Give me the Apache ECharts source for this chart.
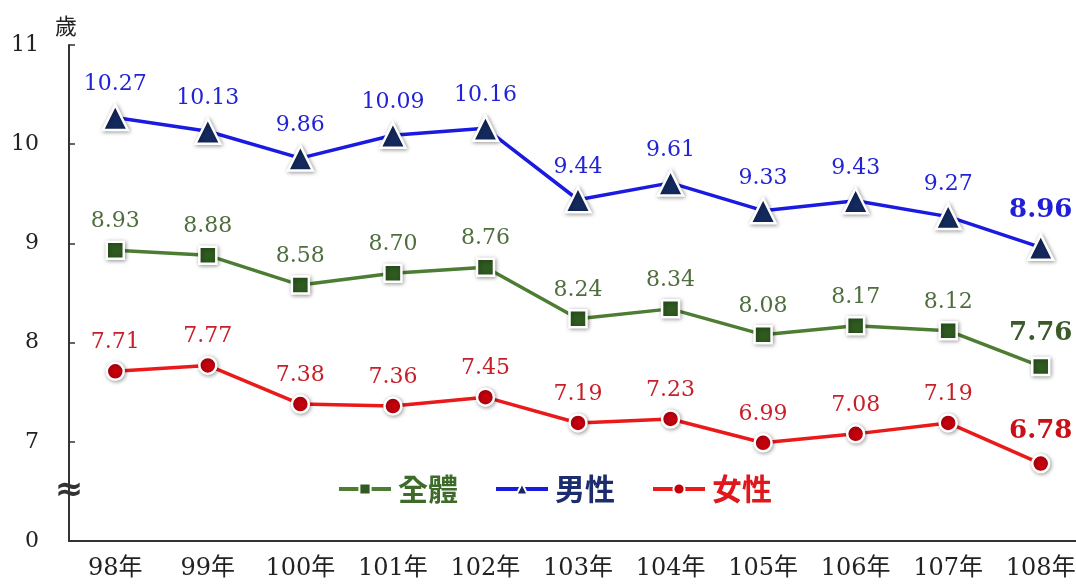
<!DOCTYPE html>
<html lang="zh-Hant">
<head>
    <meta charset="UTF-8">
    <title>平均餘命</title>
    <script src="https://cdn.jsdelivr.net/npm/echarts@6/dist/echarts.min.js"></script>
</head>
<body style="margin: 0; background: #fff; overflow: hidden;">
<!-- plot area runs a little past the right edge of the window, like the original -->
<div id="container" style="width: 1087px; height: 584px;"></div>
<script type="text/javascript">

    // 資料
    let years = ['98年', '99年', '100年', '101年', '102年', '103年', '104年', '105年', '106年', '107年', '108年'];
    let allValues = [8.93, 8.88, 8.58, 8.70, 8.76, 8.24, 8.34, 8.08, 8.17, 8.12, 7.76];
    let maleValues = [10.27, 10.13, 9.86, 10.09, 10.16, 9.44, 9.61, 9.33, 9.43, 9.27, 8.96];
    let femaleValues = [7.71, 7.77, 7.38, 7.36, 7.45, 7.19, 7.23, 6.99, 7.08, 7.19, 6.78];
    let yTicks = [6, 7, 8, 9, 10, 11];   // 6 is shown as 0 (broken axis)

    let serif = "'DejaVu Serif', 'Liberation Serif', 'Noto Sans CJK TC', serif";

    function makeData(values, lastColor) {
        return values.map(function (v, i) {
            if (i === values.length - 1) {
                return {
                    value: v,
                    label: {fontSize: 26, fontWeight: 'bold', color: lastColor, distance: 10}
                };
            }
            return v;
        });
    }

    function makeSeries(name, values, lineColor, markColor, labelColor, lastColor, symbol, size) {
        return {
            name: name,
            type: 'line',
            data: makeData(values, lastColor),
            symbol: symbol,
            symbolSize: size,
            lineStyle: {color: lineColor, width: 3.5},
            itemStyle: {
                color: markColor,
                borderColor: '#fff',
                borderWidth: 2.5,
                shadowColor: 'rgba(0,0,0,0.35)',
                shadowBlur: 4,
                shadowOffsetX: 1,
                shadowOffsetY: 1
            },
            label: {
                show: true,
                position: 'top',
                distance: 8,
                color: labelColor,
                fontFamily: serif,
                fontSize: 22,
                formatter: function (p) {
                    return p.value.toFixed(2);
                }
            },
            emphasis: {disabled: true}
        };
    }

    let dom = document.getElementById("container");
    let myChart = echarts.init(dom);

    let option = {
        animation: false,
        grid: {left: 69, top: 45, bottom: 43, right: 0},
        legend: {
            top: 469,
            left: 332,
            itemWidth: 52,
            itemHeight: 14,
            itemGap: 36,
            lineStyle: {width: 4},
            textStyle: {fontSize: 30, fontWeight: 'bold', fontFamily: "'Noto Sans CJK TC', sans-serif", padding: [0, 0, 0, 2]},
            data: [
                {name: '全體', textStyle: {color: '#3e6b2a'}},
                {name: '男性', textStyle: {color: '#1c2c6c'}},
                {name: '女性', textStyle: {color: '#e0181c'}}
            ]
        },
        xAxis: {
            type: 'category',
            data: years,
            boundaryGap: true,
            axisLine: {lineStyle: {color: '#333', width: 2}},
            axisTick: {inside: true, alignWithLabel: true, length: 6, lineStyle: {color: '#333', width: 1.5}},
            axisLabel: {color: '#222', fontSize: 24, fontFamily: serif, margin: 16}
        },
        yAxis: {
            type: 'value',
            min: yTicks[0],
            max: yTicks[yTicks.length - 1],
            interval: 1,
            name: '歲',
            nameGap: 8,
            nameTextStyle: {color: '#222', fontSize: 22, fontFamily: "'Noto Sans CJK TC', sans-serif", align: 'left', padding: [0, 0, 0, -14]},
            splitLine: {show: false},
            axisLine: {show: true, lineStyle: {color: '#333', width: 2}},
            axisTick: {show: true, inside: true, length: 6, lineStyle: {color: '#333', width: 1.5}},
            axisLabel: {
                color: '#222', fontSize: 22, fontFamily: serif, margin: 30,
                formatter: function (v) {
                    return v === yTicks[0] ? '0' : String(v);
                }
            }
        },
        series: [
            makeSeries('全體', allValues, '#4d7d33', '#2f5a20', '#4f6e3e', '#3a5a2a', 'rect', 17),
            makeSeries('男性', maleValues, '#1a1ae0', '#142a5e', '#2323d6', '#1f1fd8', 'triangle', 25),
            makeSeries('女性', femaleValues, '#ea1a1a', '#c4000e', '#c8202a', '#c81018', 'circle', 17)
        ]
    };
    myChart.setOption(option, true);

    // axis break mark between 0 and 7
    let pt = myChart.convertToPixel({gridIndex: 0}, [0, (yTicks[0] + yTicks[1]) / 2]);
    myChart.setOption({
        graphic: [{
            type: 'text',
            x: 69,
            y: pt[1],
            style: {
                text: '≈',
                font: "bold 34px 'DejaVu Sans'",
                fill: '#333',
                align: 'center',
                verticalAlign: 'middle'
            }
        }]
    });

</script>
</body>
</html>
